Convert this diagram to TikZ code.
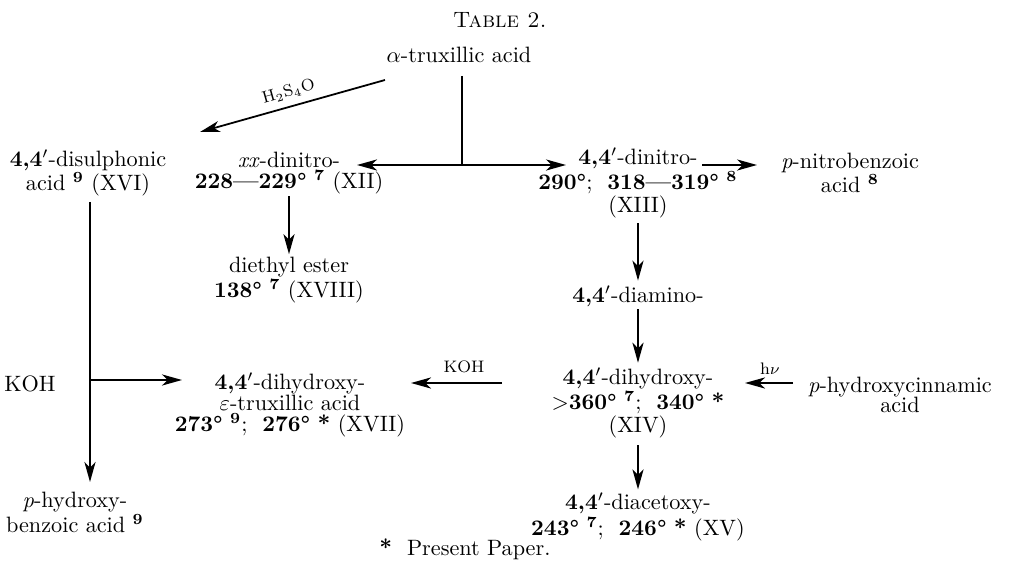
\documentclass[tikz,border=0pt]{standalone}
\usetikzlibrary{arrows.meta}
\newcommand{\refsup}[1]{\textsuperscript{\textbf{#1}}}
\begin{document}
\begin{tikzpicture}[x=0.45pt,y=-0.45pt,
  txt/.style={font=\fontsize{10}{9.3}\selectfont, align=center, inner sep=0pt},
  lab/.style={font=\fontsize{7.5}{8}\selectfont, inner sep=0pt},
  arr/.style={line width=0.8pt, -{Stealth[length=9pt,width=5pt,inset=2.5pt]}},
  ln/.style={line width=0.8pt}]
\useasboundingbox (0,0) rectangle (1010,563);
\node[txt] (title) at (500,20) {\textsc{Table 2.}};
\node[txt] (trux) at (459,55) {$\alpha$-truxillic acid};
\node[txt] (xvi) at (88,173) {\textbf{4,4$'$}-disulphonic\\acid \refsup{9} (XVI)};
\node[txt] (xii) at (289,173) {\textit{xx}-dinitro-\\\textbf{228—229°} \refsup{7} (XII)};
\node[txt] (xiii) at (638,183) {\textbf{4,4$'$}-dinitro-\\\textbf{290°};\ \ \textbf{318—319°} \refsup{8}\\(XIII)};
\node[txt] (pnb) at (850,173) {\textit{p}-nitrobenzoic\\acid \refsup{8}};
\node[txt] (ester) at (289,280) {diethyl ester\\\textbf{138°} \refsup{7} (XVIII)};
\node[txt] (diam) at (638,296) {\textbf{4,4$'$}-diamino-};
\node[txt] (xiv) at (638,403) {\textbf{4,4$'$}-dihydroxy-\\$>$\textbf{360°} \refsup{7};\ \ \textbf{340°} \textbf{*}\\(XIV)};
\node[txt] (xvii) at (290,405) {\textbf{4,4$'$}-dihydroxy-\\$\varepsilon$-truxillic acid\\\textbf{273°} \refsup{9};\ \ \textbf{276°} \textbf{*} (XVII)};
\node[txt] (cinn) at (900,395) {\textit{p}-hydroxycinnamic\\acid};
\node[txt] (koh) at (30,384) {KOH};
\node[txt] (phb) at (75,512) {\textit{p}-hydroxy-\\benzoic acid \refsup{9}};
\node[txt] (xv) at (638,517) {\textbf{4,4$'$}-diacetoxy-\\\textbf{243°} \refsup{7};\ \ \textbf{246°} \textbf{*} (XV)};
\node[txt] (note) at (465,549) {\textbf{*}\ \ Present Paper.};
% junction and free ends
\coordinate (j) at (462,165);
\coordinate (jt) at (462,76);
\coordinate (jl) at (357,165);
\coordinate (jr) at (566,165);
\draw[ln] (jt) -- (j);
\draw[arr] (j) -- (jl);
\draw[arr] (j) -- (jr);
% H2S4O
\coordinate (ha) at (385,80);
\coordinate (hb) at (200,132);
\draw[arr] (ha) -- (hb) node[lab, midway, above=3pt, sloped] (h2s) {H$_2$S$_4$O};
% dinitro -> p-nitrobenzoic
\coordinate (na) at (702,165);
\coordinate (nb) at (757,165);
\draw[arr] (na) -- (nb);
% vertical arrows
\draw[arr, shorten <=1pt, shorten >=1pt] (xii.south) -- (ester.north);
\draw[arr, shorten <=2pt, shorten >=2pt] (xiii.south) -- (diam.north);
\draw[arr, shorten <=1pt, shorten >=2pt] (diam.south) -- (xiv.north);
\draw[arr, shorten <=3pt, shorten >=1.5pt] (xiv.south) -- (xv.north);
% KOH arrow
\coordinate (ka) at (502,383);
\coordinate (kb) at (411,383);
\draw[arr] (ka) -- (kb);
\node[lab] (kohl) at (464,367) {KOH};
% h nu arrow
\coordinate (hva) at (793,383);
\coordinate (hvb) at (745,383);
\draw[arr] (hva) -- (hvb);
\node[lab] (hnu) at (770,369) {h$\nu$};
% left column
\coordinate (la) at (90,202);
\coordinate (lb) at (90,482);
\draw[arr] (la) -- (lb);
\coordinate (lc) at (90,380);
\coordinate (ld) at (182,380);
\draw[arr] (lc) -- (ld);
\end{tikzpicture}
\end{document}
